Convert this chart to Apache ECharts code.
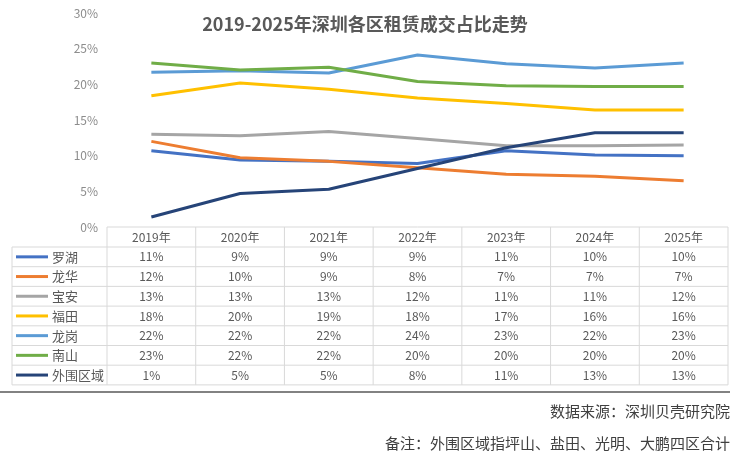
<!DOCTYPE html>
<html>
<head>
<meta charset="utf-8">
<script src="https://cdn.jsdelivr.net/npm/echarts@6/dist/echarts.min.js"></script>
<style>html,body{margin:0;padding:0;background:#fff;}#c{width:740px;height:454px;}</style>
</head>
<body>
<div id="c"></div>
<script>
var years = ['2019年','2020年','2021年','2022年','2023年','2024年','2025年'];
var yTicks = [0, 5, 10, 15, 20, 25, 30];
var names = ['罗湖','龙华','宝安','福田','龙岗','南山','外围区域'];
var luohu   = [10.7, 9.4, 9.2, 8.9, 10.7, 10.1, 10.0];
var longhua = [12.0, 9.7, 9.2, 8.3, 7.4, 7.1, 6.5];
var baoan   = [13.0, 12.8, 13.4, 12.4, 11.4, 11.4, 11.5];
var futian  = [18.4, 20.2, 19.3, 18.1, 17.3, 16.4, 16.4];
var longgang= [21.7, 21.9, 21.6, 24.1, 22.9, 22.3, 23.0];
var nanshan = [23.0, 22.0, 22.4, 20.4, 19.8, 19.7, 19.7];
var waiwei  = [1.4, 4.7, 5.3, 8.2, 11.1, 13.2, 13.2];
var title = '2019-2025年深圳各区租赁成交占比走势';
var source = '数据来源：深圳贝壳研究院';
var note = '备注：外围区域指坪山、盐田、光明、大鹏四区合计';

var allData = [luohu, longhua, baoan, futian, longgang, nanshan, waiwei];
var colors = ['#4472C4','#ED7D31','#A5A5A5','#FFC000','#5B9BD5','#70AD47','#264478'];

var FONT = '"Noto Sans CJK SC", "Liberation Sans", sans-serif';
var gridL = 107, gridR = 728, gridT = 13, gridB = 227;
var headerH = 20, rowH = 19.7, labelL = 12;
var colW = (gridR - gridL) / years.length;

var graphics = [];
// title
graphics.push({type:'text', x:365, y:24, style:{text:title, fill:'#595959', font:'bold 18px ' + FONT, textAlign:'center', textVerticalAlign:'middle'}});
var lineColor = '#d9d9d9';
var tableBottom = gridB + headerH + rowH * names.length;
// header
graphics.push({type:'line', shape:{x1:gridL, y1:gridB, x2:gridR, y2:gridB}, style:{stroke:lineColor, lineWidth:1}});
for (var i = 0; i <= years.length; i++) {
  var x = gridL + colW * i;
  graphics.push({type:'line', shape:{x1:x, y1:gridB, x2:x, y2:tableBottom}, style:{stroke:lineColor, lineWidth:1}});
}
graphics.push({type:'line', shape:{x1:labelL, y1:gridB + headerH, x2:labelL, y2:tableBottom}, style:{stroke:lineColor, lineWidth:1}});
years.forEach(function(y, i){
  graphics.push({type:'text', x:gridL + colW*(i+0.5), y:gridB + headerH/2, style:{text:y, fill:'#595959', font:'12px ' + FONT, textAlign:'center', textVerticalAlign:'middle'}});
});
names.forEach(function(n, r){
  var top = gridB + headerH + rowH * r;
  graphics.push({type:'line', shape:{x1:labelL, y1:top, x2:gridR, y2:top}, style:{stroke:lineColor, lineWidth:1}});
  var cy = top + rowH/2;
  graphics.push({type:'line', shape:{x1:16, y1:cy, x2:48, y2:cy}, style:{stroke:colors[r], lineWidth:3}});
  graphics.push({type:'text', x:52, y:cy, style:{text:n, fill:'#595959', font:'13px ' + FONT, textAlign:'left', textVerticalAlign:'middle'}});
  allData[r].forEach(function(v, i){
    graphics.push({type:'text', x:gridL + colW*(i+0.5), y:cy, style:{text:Math.round(v) + '%', fill:'#595959', font:'12px ' + FONT, textAlign:'center', textVerticalAlign:'middle'}});
  });
});
graphics.push({type:'line', shape:{x1:labelL, y1:tableBottom, x2:gridR, y2:tableBottom}, style:{stroke:lineColor, lineWidth:1}});
// footer
graphics.push({type:'line', shape:{x1:0, y1:392, x2:730, y2:392}, style:{stroke:'#595959', lineWidth:1.5}});
graphics.push({type:'text', x:730, y:411, style:{text:source, fill:'#404040', font:'15px ' + FONT, textAlign:'right', textVerticalAlign:'middle'}});
graphics.push({type:'text', x:730, y:443, style:{text:note, fill:'#404040', font:'15px ' + FONT, textAlign:'right', textVerticalAlign:'middle'}});

var chart = echarts.init(document.getElementById('c'), null, {renderer:'canvas'});
chart.setOption({
  animation:false,
  backgroundColor:'#fff',
  grid:{left:gridL, right:740-gridR, top:gridT, bottom:454-gridB},
  xAxis:{type:'category', data:years, boundaryGap:true, show:false},
  yAxis:{type:'value', min:yTicks[0], max:yTicks[yTicks.length-1], interval:5,
    axisLine:{show:false}, axisTick:{show:false}, splitLine:{show:false},
    axisLabel:{formatter:'{value}%', color:'#8c8c8c', fontSize:12, fontFamily:FONT, margin:9}},
  series: names.map(function(n, r){
    return {name:n, type:'line', data:allData[r], symbol:'none', smooth:false,
      lineStyle:{color:colors[r], width:3}, itemStyle:{color:colors[r]}};
  }),
  graphic:graphics
});
</script>
</body>
</html>
